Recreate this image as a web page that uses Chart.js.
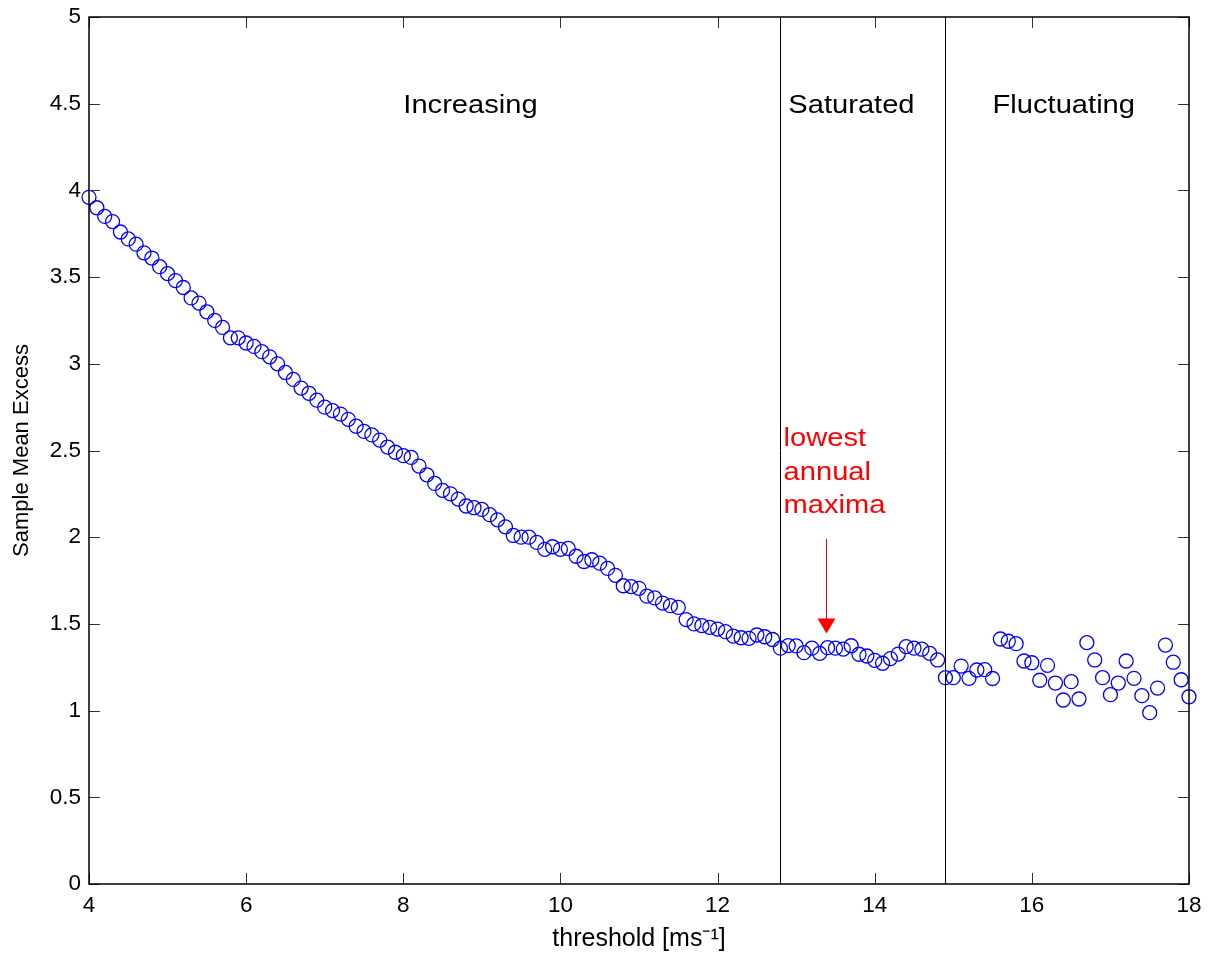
<!DOCTYPE html>
<html>
<head>
<meta charset="utf-8">
<script src="https://cdn.jsdelivr.net/npm/chart.js@4.4.0/dist/chart.umd.min.js"></script>
<style>
  html, body { margin: 0; padding: 0; background: #fff; }
</style>
</head>
<body>
<canvas id="sme" width="1212" height="958"></canvas>
<script>
// thresholds [m/s] and the sample mean excess read at each one
var thresholds = [
    4.0, 4.1, 4.2, 4.3, 4.4, 4.5, 4.6, 4.7, 4.8, 4.9,
    5.0, 5.1, 5.2, 5.3, 5.4, 5.5, 5.6, 5.7, 5.8, 5.9,
    6.0, 6.1, 6.2, 6.3, 6.4, 6.5, 6.6, 6.7, 6.8, 6.9,
    7.0, 7.1, 7.2, 7.3, 7.4, 7.5, 7.6, 7.7, 7.8, 7.9,
    8.0, 8.1, 8.2, 8.3, 8.4, 8.5, 8.6, 8.7, 8.8, 8.9,
    9.0, 9.1, 9.2, 9.3, 9.4, 9.5, 9.6, 9.7, 9.8, 9.9,
    10.0, 10.1, 10.2, 10.3, 10.4, 10.5, 10.6, 10.7, 10.8, 10.9,
    11.0, 11.1, 11.2, 11.3, 11.4, 11.5, 11.6, 11.7, 11.8, 11.9,
    12.0, 12.1, 12.2, 12.3, 12.4, 12.5, 12.6, 12.7, 12.8, 12.9,
    13.0, 13.1, 13.2, 13.3, 13.4, 13.5, 13.6, 13.7, 13.8, 13.9,
    14.0, 14.1, 14.2, 14.3, 14.4, 14.5, 14.6, 14.7, 14.8, 14.9,
    15.0, 15.1, 15.2, 15.3, 15.4, 15.5, 15.6, 15.7, 15.8, 15.9,
    16.0, 16.1, 16.2, 16.3, 16.4, 16.5, 16.6, 16.7, 16.8, 16.9,
    17.0, 17.1, 17.2, 17.3, 17.4, 17.5, 17.6, 17.7, 17.8, 17.9,
    18.0
];
var meanExcess = [
    3.96, 3.90, 3.85, 3.82, 3.76, 3.72, 3.69, 3.64, 3.61, 3.56,
    3.52, 3.48, 3.44, 3.38, 3.35, 3.30, 3.25, 3.21, 3.15, 3.15,
    3.12, 3.10, 3.07, 3.04, 3.00, 2.95, 2.91, 2.86, 2.83, 2.79,
    2.75, 2.73, 2.71, 2.68, 2.64, 2.61, 2.59, 2.56, 2.52, 2.49,
    2.47, 2.46, 2.41, 2.36, 2.31, 2.27, 2.25, 2.22, 2.18, 2.17,
    2.16, 2.13, 2.10, 2.06, 2.01, 2.00, 2.00, 1.97, 1.93, 1.945,
    1.93, 1.935, 1.89, 1.86, 1.87, 1.85, 1.82, 1.78, 1.72, 1.715,
    1.705, 1.66, 1.65, 1.62, 1.605, 1.595, 1.525, 1.50, 1.49, 1.48,
    1.47, 1.455, 1.43, 1.42, 1.417, 1.436, 1.426, 1.41, 1.36, 1.375,
    1.373, 1.334, 1.36, 1.33, 1.363, 1.36, 1.355, 1.374, 1.325, 1.315,
    1.29, 1.273, 1.30, 1.326, 1.369, 1.36, 1.354, 1.33, 1.292, 1.19,
    1.19, 1.257, 1.186, 1.234, 1.236, 1.185, 1.413, 1.40, 1.386, 1.286,
    1.276, 1.175, 1.261, 1.159, 1.061, 1.167, 1.067, 1.392, 1.292, 1.19,
    1.092, 1.159, 1.286, 1.186, 1.086, 0.988, 1.13, 1.378, 1.279, 1.178,
    1.08
];

// regions and annotation
var regionBounds = [12.8, 14.9];
var regionLabels = ['Increasing', 'Saturated', 'Fluctuating'];
var regionLabelX = [8.0, 12.9, 15.5];
var regionLabelY = 4.5;
var noteLines = ['lowest', 'annual', 'maxima'];
var noteX = 12.84;
var noteY = [2.58, 2.38, 2.19];
var arrowX = 13.38;
var arrowFrom = 1.99;
var arrowTo = 1.445;

var FONT = '"Liberation Sans", Arial, Helvetica, sans-serif';

// text a little wider than tall, like the exported figure
function wideText(ctx, txt, x, y, size, color) {
    ctx.save();
    ctx.font = size + 'px ' + FONT;
    ctx.fillStyle = color;
    ctx.textAlign = 'left';
    ctx.textBaseline = 'middle';
    ctx.translate(x, y + 2);
    ctx.scale(1.12, 1);
    ctx.fillText(txt, 0, 0);
    ctx.restore();
}

var annotations = {
    id: 'annotations',
    afterDatasetsDraw(chart) {
        var ctx = chart.ctx, xs = chart.scales.x, ys = chart.scales.y, a = chart.chartArea;
        ctx.save();
        ctx.strokeStyle = '#000';
        ctx.lineWidth = 1;
        regionBounds.forEach(function (b) {
            var px = Math.round(xs.getPixelForValue(b)) + 0.5;
            ctx.beginPath();
            ctx.moveTo(px, a.top);
            ctx.lineTo(px, a.bottom);
            ctx.stroke();
        });
        regionLabels.forEach(function (t, i) {
            wideText(ctx, t, xs.getPixelForValue(regionLabelX[i]), ys.getPixelForValue(regionLabelY), 26, '#000');
        });
        noteLines.forEach(function (t, i) {
            wideText(ctx, t, xs.getPixelForValue(noteX), ys.getPixelForValue(noteY[i]), 26, '#ff0000');
        });
        // arrow
        var ax = Math.round(xs.getPixelForValue(arrowX)) + 0.5;
        var y0 = ys.getPixelForValue(arrowFrom), y1 = ys.getPixelForValue(arrowTo);
        ctx.strokeStyle = '#ff0000';
        ctx.fillStyle = '#ff0000';
        ctx.beginPath();
        ctx.moveTo(ax, y0);
        ctx.lineTo(ax, y1 - 14);
        ctx.stroke();
        ctx.beginPath();
        ctx.moveTo(ax - 9, y1 - 15);
        ctx.lineTo(ax + 9, y1 - 15);
        ctx.lineTo(ax, y1);
        ctx.closePath();
        ctx.fill();
        ctx.restore();
    },
    afterDraw(chart) {
        // matlab style box with inward ticks on all sides
        var ctx = chart.ctx, xs = chart.scales.x, ys = chart.scales.y, a = chart.chartArea;
        var tl = 11;
        ctx.save();
        ctx.strokeStyle = '#333';
        ctx.lineWidth = 1;
        xs.ticks.forEach(function (t) {
            var px = Math.round(xs.getPixelForValue(t.value)) + 0.5;
            ctx.beginPath();
            ctx.moveTo(px, a.bottom); ctx.lineTo(px, a.bottom - tl);
            ctx.moveTo(px, a.top); ctx.lineTo(px, a.top + tl);
            ctx.stroke();
        });
        ys.ticks.forEach(function (t) {
            var py = Math.round(ys.getPixelForValue(t.value)) + 0.5;
            ctx.beginPath();
            ctx.moveTo(a.left, py); ctx.lineTo(a.left + tl, py);
            ctx.moveTo(a.right, py); ctx.lineTo(a.right - tl, py);
            ctx.stroke();
        });
        ctx.strokeStyle = '#000';
        ctx.lineWidth = 1.5;
        ctx.strokeRect(a.left, a.top, a.right - a.left, a.bottom - a.top);
        ctx.restore();
    }
};

var pts = thresholds.map(function (t, i) { return {x: t, y: meanExcess[i]}; });

new Chart(document.getElementById('sme').getContext('2d'), {
    type: 'scatter',
    data: {
        datasets: [{
            label: 'Sample Mean Excess',
            data: pts,
            pointStyle: 'circle',
            pointRadius: 7,
            pointBorderWidth: 1.3,
            borderColor: '#0000ff',
            backgroundColor: 'rgba(0,0,0,0)',
            clip: false
        }]
    },
    options: {
        responsive: false,
        animation: false,
        devicePixelRatio: 1,
        layout: { padding: { left: 0, top: 17, right: 23, bottom: 0 } },
        plugins: {
            legend: { display: false },
            tooltip: { enabled: false }
        },
        scales: {
            x: {
                type: 'linear',
                min: 4,
                max: 18,
                grid: { display: false, drawTicks: false },
                border: { display: false },
                ticks: {
                    stepSize: 2,
                    padding: 8,
                    color: '#000',
                    font: { family: FONT, size: 22.5 },
                    callback: function (v) { return v; }
                },
                title: {
                    display: true,
                    text: 'threshold [ms⁻¹]',
                    color: '#000',
                    font: { family: FONT, size: 25 },
                    padding: { top: 0, bottom: 4 }
                },
                afterFit: function (s) { s.height = 74; s.paddingLeft = 0; s.paddingRight = 0; }
            },
            y: {
                min: 0,
                max: 5,
                grid: { display: false, drawTicks: false },
                border: { display: false },
                ticks: {
                    stepSize: 0.5,
                    padding: 8,
                    color: '#000',
                    font: { family: FONT, size: 22.5 },
                    callback: function (v) { return v; }
                },
                title: {
                    display: true,
                    text: 'Sample Mean Excess',
                    color: '#000',
                    font: { family: FONT, size: 22 },
                    padding: { top: 9, bottom: 0 }
                },
                afterFit: function (s) { s.width = 89; s.paddingTop = 0; s.paddingBottom = 0; }
            }
        }
    },
    plugins: [annotations]
});
</script>
</body>
</html>
